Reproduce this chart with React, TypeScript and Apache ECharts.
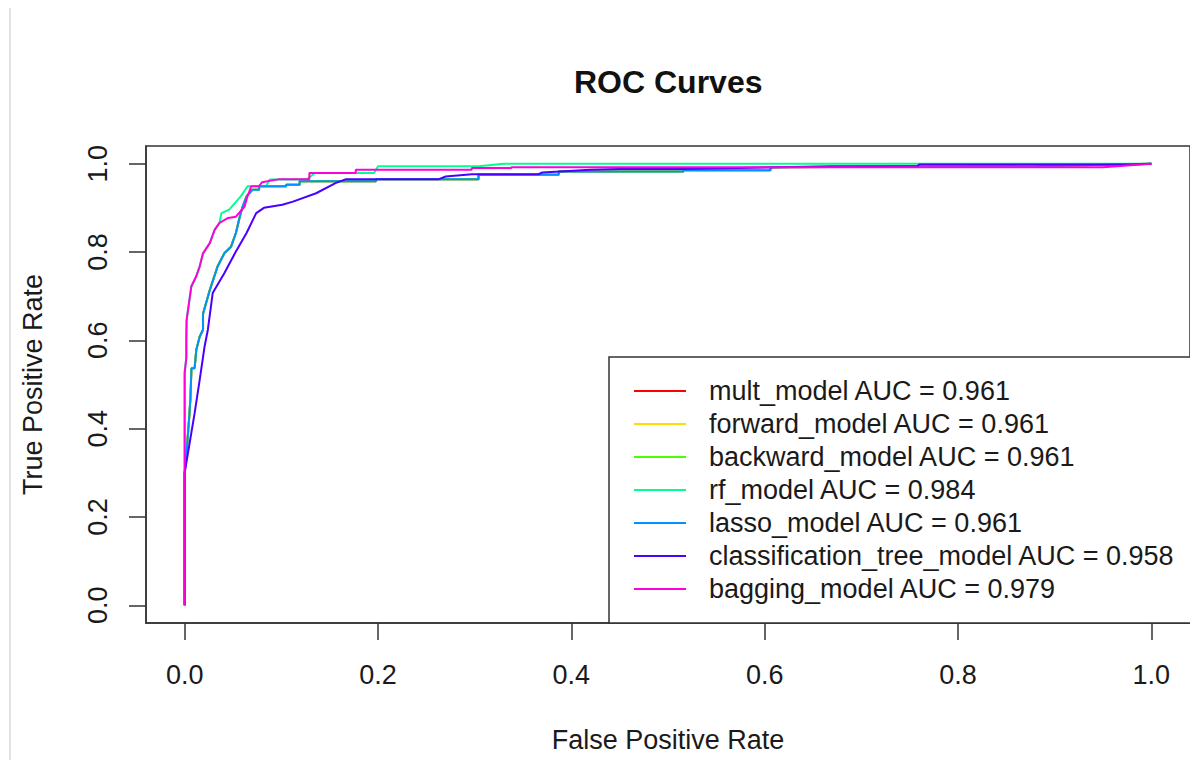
import React, { useEffect, useRef } from "react";
import * as echarts from "echarts";

const FONT = "'Liberation Sans', Arial, Helvetica, sans-serif";

const chartTitle = "ROC Curves";
const xTitle = "False Positive Rate";
const yTitle = "True Positive Rate";
const xTicks = [0, 0.2, 0.4, 0.6, 0.8, 1.0];
const yTicks = [0, 0.2, 0.4, 0.6, 0.8, 1.0];

const modelNames = [
  "mult_model",
  "forward_model",
  "backward_model",
  "rf_model",
  "lasso_model",
  "classification_tree_model",
  "bagging_model",
];
const aucValues = ["0.961", "0.961", "0.961", "0.984", "0.961", "0.958", "0.979"];
const seriesColors = ["#FF0000", "#FFDB00", "#49FF00", "#00FF92", "#0092FF", "#4900FF", "#FF00DB"];

// [false positive rate, true positive rate]
const logisticCurve = [
  [0, 0], [0, 0.3], [0.0024, 0.36], [0.0045, 0.42], [0.006, 0.47], [0.007, 0.537],
  [0.0103, 0.537], [0.012, 0.578], [0.0155, 0.608], [0.019, 0.624], [0.019, 0.66],
  [0.026, 0.714], [0.034, 0.767], [0.041, 0.797], [0.048, 0.812], [0.053, 0.843],
  [0.057, 0.88], [0.06, 0.903], [0.064, 0.926], [0.07, 0.941], [0.077, 0.941],
  [0.077, 0.949], [0.105, 0.949], [0.105, 0.952], [0.119, 0.952], [0.119, 0.96],
  [0.198, 0.96], [0.198, 0.965], [0.304, 0.965], [0.304, 0.975], [0.387, 0.975],
  [0.387, 0.982], [0.516, 0.982], [0.516, 0.985], [0.606, 0.985], [0.606, 0.992],
  [0.88, 0.994], [1, 1],
];
const multCurve = logisticCurve;
const forwardCurve = logisticCurve;
const backwardCurve = logisticCurve;
const lassoCurve = logisticCurve;

const rfCurve = [
  [0, 0], [0, 0.53], [0.0017, 0.56], [0.0017, 0.6], [0.002, 0.646], [0.0069, 0.722],
  [0.012, 0.745], [0.0155, 0.767], [0.019, 0.797], [0.026, 0.82], [0.031, 0.85],
  [0.036, 0.866], [0.038, 0.888], [0.046, 0.896], [0.058, 0.926], [0.065, 0.949],
  [0.084, 0.949], [0.088, 0.964], [0.126, 0.964], [0.135, 0.979], [0.196, 0.979],
  [0.2, 0.994], [0.304, 0.994], [0.33, 1.0], [1, 1],
];

const treeCurve = [
  [0, 0], [0, 0.3], [0.0045, 0.359], [0.0103, 0.435], [0.0155, 0.51], [0.0206, 0.586],
  [0.024, 0.624], [0.029, 0.707], [0.041, 0.752], [0.052, 0.797], [0.064, 0.843],
  [0.074, 0.888], [0.082, 0.9], [0.101, 0.907], [0.112, 0.914], [0.136, 0.933],
  [0.156, 0.956], [0.167, 0.965], [0.263, 0.965], [0.27, 0.971], [0.297, 0.976],
  [0.366, 0.976], [0.37, 0.98], [0.42, 0.986], [0.45, 0.988], [0.516, 0.988],
  [0.668, 0.994], [0.758, 0.994], [0.76, 0.998], [0.98, 0.998], [1, 1],
];

const baggingCurve = [
  [0, 0], [0, 0.526], [0.0017, 0.56], [0.0017, 0.6], [0.002, 0.646], [0.0069, 0.722],
  [0.012, 0.745], [0.0155, 0.767], [0.019, 0.797], [0.026, 0.82], [0.031, 0.85],
  [0.036, 0.866], [0.045, 0.877], [0.053, 0.88], [0.062, 0.903], [0.065, 0.926],
  [0.069, 0.949], [0.077, 0.949], [0.08, 0.958], [0.098, 0.965], [0.129, 0.965],
  [0.129, 0.979], [0.177, 0.979], [0.177, 0.986], [0.297, 0.986], [0.297, 0.99],
  [0.338, 0.99], [0.338, 0.992], [0.95, 0.992], [1, 1],
];

const curves = [multCurve, forwardCurve, backwardCurve, rfCurve, lassoCurve, treeCurve, baggingCurve];

export default function App() {
  const ref = useRef<HTMLDivElement>(null);

  useEffect(() => {
    if (!ref.current) return;
    const chart = echarts.init(ref.current, undefined, { renderer: "svg" });
    const labels = modelNames.map((n, i) => `${n} AUC = ${aucValues[i]}`);
    const axisCommon = {
      type: "value",
      min: -0.04,
      max: 1.04,
      splitLine: { show: false },
      axisLine: { show: true, onZero: false, lineStyle: { color: "#333", width: 1.5 } },
      axisTick: { show: true, length: 17, customValues: xTicks, lineStyle: { color: "#333", width: 1.5 } },
      nameLocation: "middle",
      nameTextStyle: { fontFamily: FONT, fontSize: 27, color: "#1a1a1a" },
    };
    chart.setOption({
      animation: false,
      backgroundColor: "#ffffff",
      title: {
        text: chartTitle,
        left: 574,
        top: 66,
        padding: 0,
        textStyle: { fontFamily: FONT, fontSize: 32, fontWeight: "bold", color: "#111" },
      },
      grid: {
        left: 146,
        top: 146,
        width: 1048,
        height: 477,
        show: true,
        borderColor: "#333",
        borderWidth: 1.5,
        backgroundColor: "transparent",
      },
      legend: {
        orient: "vertical",
        left: 609,
        top: 357,
        padding: [17.5, 30, 17.5, 24],
        itemGap: 0,
        itemWidth: 52,
        itemHeight: 14,
        selectedMode: false,
        backgroundColor: "#ffffff",
        borderColor: "#333",
        borderWidth: 1.5,
        borderRadius: 0,
        itemStyle: { opacity: 0 },
        lineStyle: { width: 2 },
        data: labels,
        textStyle: {
          fontFamily: FONT,
          fontSize: 27,
          color: "#1a1a1a",
          lineHeight: 33,
          padding: [0, 0, 0, 18],
        },
      },
      xAxis: {
        ...axisCommon,
        name: xTitle,
        nameGap: 103,
        axisLabel: {
          customValues: xTicks,
          margin: 38,
          fontFamily: FONT,
          fontSize: 27,
          color: "#1a1a1a",
          formatter: (v: number) => v.toFixed(1),
        },
      },
      yAxis: {
        ...axisCommon,
        name: yTitle,
        nameGap: 100,
        axisTick: { show: true, length: 17, customValues: yTicks, lineStyle: { color: "#333", width: 1.5 } },
        axisLabel: {
          customValues: yTicks,
          rotate: 90,
          margin: 35,
          fontFamily: FONT,
          fontSize: 27,
          color: "#1a1a1a",
          formatter: (v: number) => v.toFixed(1),
        },
      },
      graphic: [
        {
          type: "line",
          shape: { x1: 10, y1: 8, x2: 10, y2: 760 },
          style: { stroke: "#d9d9d9", lineWidth: 1.5 },
          silent: true,
        },
      ],
      series: curves.map((c, i) => ({
        type: "line",
        name: labels[i],
        data: c,
        symbol: "none",
        showSymbol: false,
        clip: true,
        color: seriesColors[i],
        lineStyle: { color: seriesColors[i], width: 2 },
        emphasis: { disabled: true },
      })),
    });
    return () => chart.dispose();
  }, []);

  return (
    <div
      ref={ref}
      style={{ position: "absolute", left: 0, top: 0, width: 1190, height: 760, background: "#fff" }}
    />
  );
}
